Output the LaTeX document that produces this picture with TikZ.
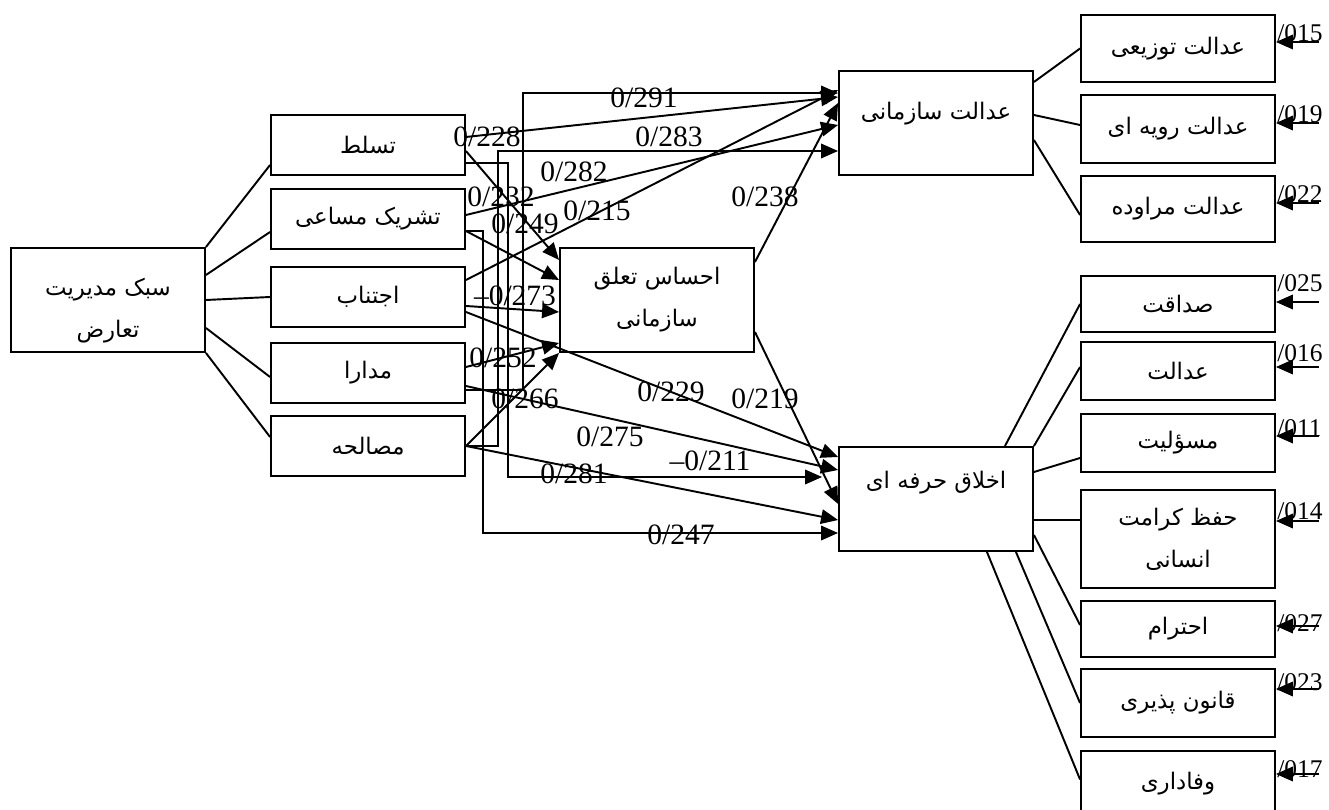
\documentclass[tikz,border=0pt]{standalone}
\usepackage{fontspec}
\setmainfont{Liberation Serif}
\newfontfamily\arabicfont[Script=Arabic]{DejaVu Sans}
\TeXXeTstate=1
\usepackage{tikz}
\usetikzlibrary{arrows.meta, calc}
\newcommand{\fatext}[1]{\beginR #1\endR}
\tikzset{
  box/.style={rectangle, draw=black, line width=1.1pt, inner sep=0pt,
    minimum width=3.88cm, align=center,
    font=\arabicfont\fontsize{13}{24}\selectfont},
  coef/.style={inner sep=0pt, font=\fontsize{16.8}{18}\selectfont},
  errlbl/.style={inner sep=0pt, font=\fontsize{14.5}{16}\selectfont},
  arrow/.style={-{Triangle[length=0.34cm, width=0.29cm]}, line width=1.1pt},
  line/.style={line width=1.1pt}
}

\begin{document}
\begin{tikzpicture}[x=0.02cm, y=-0.02cm]
  \useasboundingbox (0,0) rectangle (1329,810);

  % Conflict management style and its five styles
  \node[box, minimum height=2.08cm, text height=1.63cm] (root) at (108,300) {\fatext{سبک مدیریت}\\\fatext{تعارض}};
  \node[box, minimum height=1.2cm] (dom) at (368,145) {\fatext{تسلط}};
  \node[box, minimum height=1.2cm] (col) at (368,219) {\fatext{تشریک مساعی}};
  \node[box, minimum height=1.2cm] (avo) at (368,297) {\fatext{اجتناب}};
  \node[box, minimum height=1.2cm] (acc) at (368,373) {\fatext{مدارا}};
  \node[box, minimum height=1.2cm] (comp) at (368,446) {\fatext{مصالحه}};

  % Mediator and outcomes
  \node[box, minimum height=2.08cm] (belong) at (657,300) {\fatext{احساس تعلق}\\\fatext{سازمانی}};
  \node[box, minimum height=2.08cm, text depth=0.5cm] (orgjust) at (936,123) {\fatext{عدالت سازمانی}};
  \node[box, minimum height=2.08cm, text depth=0.75cm] (ethics) at (936,499) {\fatext{اخلاق حرفه ای}};

  % Justice dimensions
  \node[box, minimum height=1.34cm] (distj) at (1178,48.5) {\fatext{عدالت توزیعی}};
  \node[box, minimum height=1.36cm] (procj) at (1178,129) {\fatext{عدالت رویه ای}};
  \node[box, minimum height=1.32cm] (interj) at (1178,209) {\fatext{عدالت مراوده}};

  % Ethics dimensions
  \node[box, minimum height=1.12cm] (hon) at (1178,304) {\fatext{صداقت}};
  \node[box, minimum height=1.16cm] (fair) at (1178,371) {\fatext{عدالت}};
  \node[box, minimum height=1.16cm] (resp) at (1178,443) {\fatext{مسؤلیت}};
  \node[box, minimum height=1.96cm] (dign) at (1178,539) {\fatext{حفظ کرامت}\\\fatext{انسانی}};
  \node[box, minimum height=1.12cm] (respc) at (1178,629) {\fatext{احترام}};
  \node[box, minimum height=1.36cm] (law) at (1178,703) {\fatext{قانون پذیری}};
  \node[box, minimum height=1.3cm] (loyal) at (1178,783.5) {\fatext{وفاداری}};

  % root to styles
  \draw[line] (root.north east) -- ($(dom.west)+(0,20)$);
  \draw[line] ($(root.east)+(0,-25)$) -- ($(col.west)+(0,13)$);
  \draw[line] (root.east) -- (avo.west);
  \draw[line] ($(root.east)+(0,28)$) -- ($(acc.west)+(0,4)$);
  \draw[line] (root.south east) -- ($(comp.west)+(0,-9)$);

  % elbow paths
  \draw[arrow] ($(acc.east)+(0,17)$) -- ++(57,0) |- ($(orgjust.west)+(0,-30)$);
  \draw[arrow] (comp.east) -- ++(32,0) |- ($(orgjust.west)+(0,28)$);
  \draw[arrow] ($(dom.east)+(0,18)$) -- ++(42,0) |- ($(ethics.west)+(-16,-22)$);
  \draw[arrow] ($(col.east)+(0,12)$) -- ++(17,0) |- ($(ethics.west)+(0,34)$);

  % paths to organizational justice
  \draw[arrow] ($(dom.east)+(0,-8)$) -- ($(orgjust.west)+(0,-26)$);
  \draw[arrow] ($(avo.east)+(0,-17)$) -- ($(orgjust.west)+(0,-33)$);
  \draw[arrow] ($(col.east)+(0,-4)$) -- ($(orgjust.west)+(0,2)$);
  \draw[arrow] ($(belong.north east)+(0,15)$) -- ($(orgjust.west)+(0,-20)$);

  % paths to belonging
  \draw[arrow] ($(dom.east)+(0,6)$) -- ($(belong.west)+(0,-40)$);
  \draw[arrow] ($(col.east)+(0,12)$) -- ($(belong.west)+(0,-20)$);
  \draw[arrow] ($(avo.east)+(0,9)$) -- ($(belong.west)+(0,12)$);
  \draw[arrow] ($(acc.east)+(0,-6)$) -- ($(belong.west)+(0,43)$);
  \draw[arrow] (comp.east) -- (belong.south west);

  % paths to professional ethics
  \draw[arrow] ($(avo.east)+(0,15)$) -- ($(ethics.west)+(0,-42)$);
  \draw[arrow] ($(acc.east)+(0,13)$) -- ($(ethics.west)+(0,-29)$);
  \draw[arrow] ($(belong.east)+(0,32)$) -- ($(ethics.west)+(0,5)$);
  \draw[arrow] (comp.east) -- ($(ethics.west)+(0,21)$);

  % coefficients
  \node[coef] (c291) at (644,98) {0/291};
  \node[coef] (c228) at (487,137) {0/228};
  \node[coef] (c283) at (669,137) {0/283};
  \node[coef] (c282) at (574,172) {0/282};
  \node[coef] (c232) at (501,197) {0/232};
  \node[coef] (c249) at (525,224) {0/249};
  \node[coef] (c215) at (597,211) {0/215};
  \node[coef] (c238) at (765,197) {0/238};
  \node[coef] (cm273) at (515,296) {–0/273};
  \node[coef] (c252) at (503,358) {0/252};
  \node[coef] (c266) at (525,399) {0/266};
  \node[coef] (c229) at (671,392) {0/229};
  \node[coef] (c219) at (765,399) {0/219};
  \node[coef] (c275) at (610,437) {0/275};
  \node[coef] (cm211) at (710,461) {–0/211};
  \node[coef] (c281) at (574,474) {0/281};
  \node[coef] (c247) at (681,535) {0/247};

  % outcomes to dimensions
  \draw[line] ($(orgjust.east)+(0,-41)$) -- (distj.west);
  \draw[line] ($(orgjust.east)+(0,-8)$) -- ($(procj.west)+(0,-4)$);
  \draw[line] ($(orgjust.east)+(0,17)$) -- ($(interj.west)+(0,6)$);
  \draw[line] ($(ethics.north east)+(-29,0)$) -- (hon.west);
  \draw[line] (ethics.north east) -- ($(fair.west)+(0,-4)$);
  \draw[line] ($(ethics.east)+(0,-27)$) -- ($(resp.west)+(0,15)$);
  \draw[line] ($(ethics.east)+(0,21)$) -- ($(dign.west)+(0,-19)$);
  \draw[line] ($(ethics.east)+(0,36)$) -- ($(respc.west)+(0,-4)$);
  \draw[line] ($(ethics.south east)+(-18,0)$) -- (law.west);
  \draw[line] ($(ethics.south east)+(-47,0)$) -- ($(loyal.west)+(0,-4)$);

  % error terms
  \draw[arrow] ($(distj.east)+(43,-6.5)$) -- ($(distj.east)+(0,-6.5)$);
  \node[errlbl, anchor=base west] (e015) at ($(distj.east)+(1,-6.5)$) {/015};
  \draw[arrow] ($(procj.east)+(43,-6)$) -- ($(procj.east)+(0,-6)$);
  \node[errlbl, anchor=base west] (e019) at ($(procj.east)+(1,-6)$) {/019};
  \draw[arrow] ($(interj.east)+(43,-6)$) -- ($(interj.east)+(0,-6)$);
  \node[errlbl, anchor=base west] (e022) at ($(interj.east)+(1,-6)$) {/022};
  \draw[arrow] ($(hon.east)+(43,-2)$) -- ($(hon.east)+(0,-2)$);
  \node[errlbl, anchor=base west] (e025) at ($(hon.east)+(1,-12)$) {/025};
  \draw[arrow] ($(fair.east)+(43,-4)$) -- ($(fair.east)+(0,-4)$);
  \node[errlbl, anchor=base west] (e016) at ($(fair.east)+(1,-9)$) {/016};
  \draw[arrow] ($(resp.east)+(43,-7)$) -- ($(resp.east)+(0,-7)$);
  \node[errlbl, anchor=base west] (e011) at ($(resp.east)+(1,-6)$) {/011};
  \draw[arrow] ($(dign.east)+(43,-18)$) -- ($(dign.east)+(0,-18)$);
  \node[errlbl, anchor=base west] (e014) at ($(dign.east)+(1,-19)$) {/014};
  \draw[arrow] ($(respc.east)+(43,-3)$) -- ($(respc.east)+(0,-3)$);
  \node[errlbl, anchor=base west] (e027) at ($(respc.east)+(1,3)$) {/027};
  \draw[arrow] ($(law.east)+(43,-14)$) -- ($(law.east)+(0,-14)$);
  \node[errlbl, anchor=base west] (e023) at ($(law.east)+(1,-13)$) {/023};
  \draw[arrow] ($(loyal.east)+(43,-9.5)$) -- ($(loyal.east)+(0,-9.5)$);
  \node[errlbl, anchor=base west] (e017) at ($(loyal.east)+(1,-6.5)$) {/017};
\end{tikzpicture}
\end{document}
